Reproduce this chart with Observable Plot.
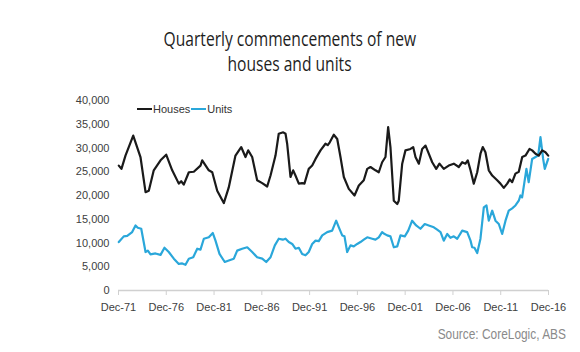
<!DOCTYPE html>
<html><head><meta charset="utf-8">
<script src="https://cdn.jsdelivr.net/npm/d3@7"></script>
<script src="https://cdn.jsdelivr.net/npm/@observablehq/plot@0.6"></script>
<style>
html,body{margin:0;padding:0;background:#fff;}
#wrap{position:relative;width:580px;height:352px;overflow:hidden;}
.tline{position:absolute;left:0;width:580px;text-align:center;font-family:"Open Sans",sans-serif;font-size:20px;line-height:22px;color:#1e1e1e;}
.tline span{display:inline-block;transform:scaleX(0.78);}
#legend{position:absolute;left:137px;top:103px;font-family:"Liberation Sans",Arial,sans-serif;font-size:11px;color:#333;display:flex;align-items:center;}
#legend .sw{display:inline-block;width:15px;height:2px;margin-right:1px;}
#source{position:absolute;right:14px;top:326px;font-family:"Liberation Sans",Arial,sans-serif;font-size:14px;color:#8a8a8a;transform-origin:right center;transform:scaleX(0.85);}
</style></head>
<body><div id="wrap">
<div class="tline" style="top:28px"><span>Quarterly commencements of new</span></div>
<div class="tline" style="top:53px"><span>houses and units</span></div>
<div id="chart"></div>
<div id="legend"><span class="sw" style="background:#1a1a1a"></span><span>Houses</span><span class="sw" style="background:#2aa7da;margin-left:1px"></span><span>Units</span></div>
<div id="source">Source: CoreLogic, ABS</div>
</div>
<script>
const houseYears = [1971.95,1972.23,1972.65,1973.46,1974.22,1974.75,1975.09,1975.61,1976.32,1976.91,1977.54,1978.23,1978.48,1978.75,1979.28,1979.80,1980.50,1980.68,1981.37,1981.73,1982.25,1982.94,1983.46,1984.16,1984.76,1985.21,1985.49,1985.91,1986.43,1986.96,1987.48,1987.83,1988.35,1988.69,1989.16,1989.40,1989.57,1989.92,1990.20,1990.44,1990.79,1991.14,1991.38,1991.83,1992.19,1992.54,1993.06,1993.58,1993.82,1994.03,1994.45,1994.81,1995.15,1995.50,1996.02,1996.62,1997.07,1997.59,1997.95,1998.29,1998.81,1999.16,1999.51,1999.86,2000.14,2000.38,2000.73,2001.09,2001.25,2001.61,2001.95,2002.48,2002.76,2003.00,2003.35,2003.70,2004.05,2004.39,2004.75,2005.17,2005.51,2005.96,2006.48,2007.01,2007.53,2007.89,2008.23,2008.47,2008.76,2009.10,2009.46,2009.80,2010.04,2010.32,2010.67,2011.03,2011.55,2011.89,2012.24,2012.60,2012.87,2013.12,2013.46,2013.81,2014.17,2014.51,2014.93,2015.21,2015.56,2015.90,2016.26,2016.60,2016.89];
const houseValues = [26300,25600,28400,32600,28100,20700,21000,25300,27400,28600,25300,22500,23000,22300,24900,25000,26300,27400,25300,24900,21000,18400,21700,28400,30200,28100,29500,28100,23200,22600,21900,24200,28400,33000,33300,33000,30900,23900,25300,24200,22500,22600,22500,25600,26300,27700,29500,30900,30600,31200,32800,31900,28100,23900,21400,20000,22100,23200,25600,26000,25300,24900,27000,28100,34400,30200,18900,18200,18900,26700,29500,29800,30200,28100,26700,29800,30500,28800,27000,25600,26700,25600,26300,26700,26000,27000,26700,27400,25300,22500,24900,28800,30200,29100,25300,24200,23200,22500,21600,22500,23400,22800,24600,25000,28100,28400,29800,29500,28800,28400,29500,29100,28400];
const unitYears = [1971.95,1972.47,1972.83,1973.35,1973.70,1973.94,1974.30,1974.75,1974.99,1975.27,1975.79,1976.32,1976.73,1977.18,1977.71,1978.23,1978.59,1978.93,1979.28,1979.74,1980.16,1980.50,1980.85,1981.37,1981.79,1982.07,1982.49,1983.04,1983.46,1983.99,1984.34,1984.86,1985.39,1985.91,1986.43,1986.96,1987.38,1987.83,1988.28,1988.69,1989.11,1989.40,1989.74,1990.10,1990.44,1990.79,1991.14,1991.49,1991.83,1992.19,1992.54,1992.88,1993.24,1993.76,1994.28,1994.70,1994.98,1995.33,1995.57,1995.85,1996.20,1996.54,1996.90,1997.24,1997.59,1997.95,1998.47,1998.81,1999.16,1999.51,1999.68,2000.04,2000.38,2000.73,2001.09,2001.43,2001.88,2002.24,2002.65,2003.07,2003.52,2003.97,2004.39,2004.92,2005.27,2005.62,2005.96,2006.32,2006.66,2007.01,2007.37,2007.89,2008.41,2008.76,2008.93,2009.17,2009.46,2009.80,2010.15,2010.43,2010.67,2011.03,2011.37,2011.72,2012.07,2012.42,2012.76,2013.12,2013.46,2013.81,2013.98,2014.16,2014.61,2014.85,2015.21,2015.56,2015.84,2016.08,2016.36,2016.53,2016.89];
const unitValues = [10200,11400,11500,12300,13700,13200,13000,8100,8400,7600,7800,7500,9000,8100,6700,5600,5700,5400,6700,7000,8800,8600,10900,11200,12100,10500,7700,6000,6300,6700,8400,8800,9100,8100,7000,6700,6000,7000,9500,10900,10700,10900,10200,9800,8800,9000,7700,7400,8100,9800,10500,10400,11600,12300,12600,14700,13300,11600,11400,8100,9500,9300,9800,10200,10700,11200,10900,10700,11200,12300,12000,11600,11400,9100,9300,11600,11400,12600,14700,13700,13000,14000,13700,13300,12800,12300,10500,11900,11100,11400,10900,12600,12300,10500,9100,9000,7900,10900,17500,17900,14700,16800,14700,14000,11900,14700,16800,17300,17900,18900,20000,19600,25600,22800,27700,28100,28400,32300,27700,25600,27700];
const xTickYears = [1971.92,1976.92,1981.92,1986.92,1991.92,1996.92,2001.92,2006.92,2011.92,2016.92];
const xTickLabels = ["Dec-71","Dec-76","Dec-81","Dec-86","Dec-91","Dec-96","Dec-01","Dec-06","Dec-11","Dec-16"];
const yTicks = [0,5000,10000,15000,20000,25000,30000,35000,40000];

const houses = houseYears.map((t,i)=>({t, v: houseValues[i]}));
const units = unitYears.map((t,i)=>({t, v: unitValues[i]}));

const chart = Plot.plot({
  width: 580, height: 352,
  marginTop: 100, marginBottom: 62, marginLeft: 118, marginRight: 32,
  style: {fontFamily: '"Liberation Sans", Arial, sans-serif', fontSize: "11px", color: "#404040", background: "transparent"},
  x: {domain: [1971.92, 2016.92], label: null},
  y: {domain: [0, 40000], label: null},
  marks: [
    Plot.ruleY([0], {stroke: "#d0d0d0", strokeWidth: 1.5}),
    Plot.axisX({ticks: xTickYears, tickFormat: (d,i)=>xTickLabels[i], tickSize: 5, tickPadding: 8, stroke: "#d0d0d0", label: null, fill: "#404040"}),
    Plot.axisY({ticks: yTicks, tickFormat: d3.format(","), tickSize: 0, tickPadding: 9, label: null, fill: "#404040"}),
    Plot.line(units, {x: "t", y: "v", stroke: "#2aa7da", strokeWidth: 2.2, curve: "linear"}),
    Plot.line(houses, {x: "t", y: "v", stroke: "#1a1a1a", strokeWidth: 2.2, curve: "linear"})
  ]
});
document.getElementById("chart").appendChild(chart);
</script>
</body></html>
